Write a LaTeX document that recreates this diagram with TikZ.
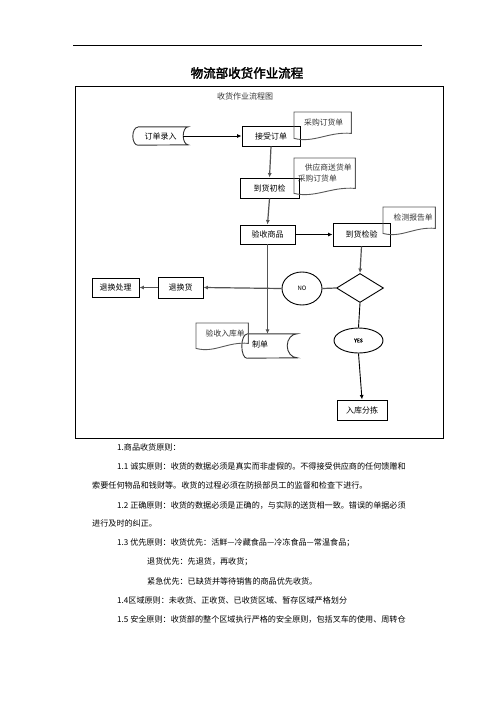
\documentclass[tikz,border=0pt]{standalone}
\usepackage{fontspec}
\setmainfont{Noto Sans CJK SC}[AutoFakeBold=2.5]
\usetikzlibrary{arrows.meta, calc, positioning, shapes.geometric}
\tikzset{
  box/.style={draw, line width=0.9pt, minimum height=20pt, inner sep=0pt,
    font=\fontsize{8}{10}\selectfont},
  store/.style={inner sep=0pt, minimum height=18pt, font=\fontsize{8}{10}\selectfont},
  storeline/.style={line width=0.9pt, black!80},
  docnode/.style={anchor=north west, inner sep=0pt, align=left, text=black!80,
    font=\fontsize{7.8}{11}\selectfont},
  docline/.style={line width=0.9pt, gray!70!black},
  flow/.style={-{Latex[length=4.5pt,width=4pt]}, line width=1.2pt, gray!65!black},
  flowk/.style={-{Latex[length=4.5pt,width=4pt]}, line width=0.9pt, black},
  para/.style={anchor=west, inner sep=0pt, font=\fontsize{8.1}{10}\selectfont},
}

\begin{document}
\begin{tikzpicture}[x=1pt, y=-1pt]
  \useasboundingbox (0,0) rectangle (496,702);
  % header rule and title
  \draw[line width=0.8pt] (73,45) -- (422,45);
  \node[font=\fontsize{12.5}{14}\selectfont\bfseries] (title) at (247,73) {物流部收货作业流程};
  % frame of the chart
  \draw[line width=0.8pt] (75,86) rectangle (443,438);
  \node[font=\fontsize{8}{10}\selectfont, text=black!80] (cap) at (245,96) {收货作业流程图};

  % order entry (stored data)
  \node[store, minimum width=55pt] (order) at (160.5,136) {订单录入};
  \draw[storeline] ([xshift=5pt]order.north west) -- (order.north east)
    arc[start angle=90, end angle=270, x radius=5pt, y radius=9pt]
    -- ([xshift=5pt]order.south west)
    arc[start angle=270, end angle=90, x radius=5pt, y radius=9pt];

  % main column
  \node[box, minimum width=58pt] (accept) at (271,136) {接受订单};
  \node[box, minimum width=59pt] (precheck) at (269.5,188) {到货初检};
  \node[box, minimum width=55pt, minimum height=19pt] (receive) at (267.5,234.5) {验收商品};
  \node[box, minimum width=57pt, minimum height=23pt] (inspect) at (361.5,234.5) {到货检验};

  % decision
  \node[diamond, draw, line width=0.9pt, minimum width=47pt, minimum height=29pt,
    inner sep=0pt] (judge) at (360,288) {};
  \node[ellipse, draw, line width=0.9pt, minimum width=40pt, minimum height=33pt,
    inner sep=0pt, font=\fontsize{6}{7}\selectfont] (no) at (302,288.5) {NO};
  \node[ellipse, draw, line width=0.9pt, minimum width=49pt, minimum height=25pt,
    inner sep=0pt, font=\fontsize{5}{6}\selectfont\bfseries] (yes) at (358.5,340.5) {YES};
  \node[box, minimum width=45pt, minimum height=21pt] (ret) at (180.5,287.5) {退换货};
  \node[box, minimum width=47pt, minimum height=19pt] (rethandle) at (115.5,287.5) {退换处理};
  \node[box, minimum width=50pt] (stock) at (362,410) {入库分拣};

  % bill making (stored data)
  \node[store, minimum width=55pt, minimum height=24pt] (bill) at (269.5,346) {};
  \node[font=\fontsize{8}{10}\selectfont] (billtxt) at (260,344) {制单};
  \draw[storeline] ([xshift=5pt]bill.north west) -- (bill.north east)
    arc[start angle=90, end angle=270, x radius=10pt, y radius=12pt]
    -- ([xshift=5pt]bill.south west)
    arc[start angle=270, end angle=90, x radius=5pt, y radius=12pt];

  % documents
  \node[docnode, minimum width=57pt, minimum height=21pt] (pobill) at (294,112)
    {\hspace{2pt}采购订货单};
  \node[docnode, minimum width=61pt, minimum height=30pt] (supbill) at (294,158)
    {\hspace{7pt}供应商送货单\\采购订货单};
  \node[docnode, minimum width=52pt, minimum height=21pt] (testrep) at (383,207)
    {\hspace{8pt}检测报告单};
  \node[docnode, minimum width=52pt, minimum height=20pt] (inbill) at (196,323)
    {\hspace{6pt}验收入库单};
  \foreach \d in {pobill,supbill,testrep,inbill}{
    \draw[docline] (\d.north west) -- ($(\d.south west)+(0,5)$)
      .. controls ($(\d.south west)!0.35!(\d.south east)+(0,10)$)
      and ($(\d.south west)!0.6!(\d.south east)+(0,-2)$) .. (\d.south east)
      -- (\d.north east) -- cycle;
  }

  % connectors
  \draw[flowk] ([xshift=-5pt]order.east) -- (accept.west);
  \draw[flow] (accept.south) -- (precheck.north);
  \draw[flow] (precheck.south) -- (receive.north);
  \draw[flowk] (receive.east) -- (inspect.west);
  \draw[flow] (inspect.south) -- (judge.north);
  \draw[line width=1.2pt, gray!65!black] (judge.west) -- (no.east);
  \draw[flow] (no.west) -- (ret.east);
  \draw[flow] (ret.west) -- (rethandle.east);
  \draw[flow] (receive.south) -- (receive.south |- bill.north);
  \draw[line width=0.9pt] (judge.south) -- (yes.north);
  \draw[flowk] (yes.south) -- (stock.north);

  % text below the chart
  \node[para] (p0) at (117,447) {1.商品收货原则：};
  \node[para] (p1) at (117,466) {1.1 诚实原则：收货的数据必须是真实而非虚假的。不得接受供应商的任何馈赠和};
  \node[para] (p1b) at (92,485) {索要任何物品和钱财等。收货的过程必须在防损部员工的监督和检查下进行。};
  \node[para] (p2) at (117,505) {1.2 正确原则：收货的数据必须是正确的，与实际的送货相一致。错误的单据必须};
  \node[para] (p2b) at (92,523) {进行及时的纠正。};
  \node[para] (p3) at (117,543) {1.3 优先原则：收货优先：活鲜—冷藏食品—冷冻食品—常温食品；};
  \node[para] (p3b) at (147,562) {退货优先：先退货，再收货；};
  \node[para] (p3c) at (147,581) {紧急优先：已缺货并等待销售的商品优先收货。};
  \node[para] (p4) at (117,600) {1.4区域原则：未收货、正收货、已收货区域、暂存区域严格划分};
  \node[para] (p5) at (117,619) {1.5 安全原则：收货部的整个区域执行严格的安全原则，包括叉车的使用、周转仓};
\end{tikzpicture}
\end{document}
